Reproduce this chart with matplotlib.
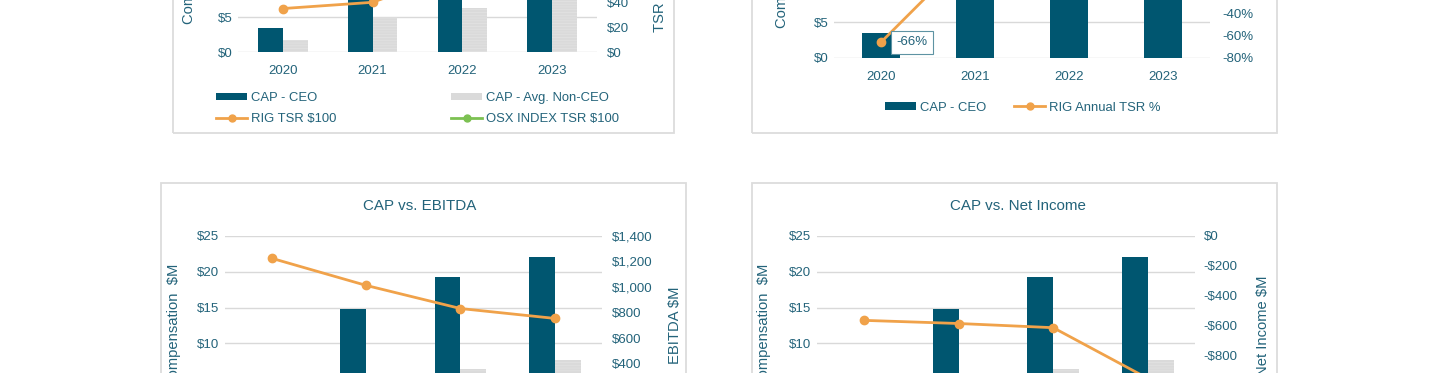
import matplotlib
matplotlib.use("Agg")
import matplotlib.pyplot as plt
from matplotlib.patches import Rectangle, Patch
from matplotlib.lines import Line2D
from matplotlib.ticker import FuncFormatter, MultipleLocator

# ---------------- data ----------------
years = ["2020", "2021", "2022", "2023"]
cap_ceo = [3.5, 14.8, 19.3, 22.0]
cap_non_ceo = [1.8, 5.1, 6.4, 7.7]
rig_tsr_100 = [35, 40, 66, 92]
osx_tsr_100 = [62, 75, 124, 132]
rig_annual_tsr = [-66, 19, 65, 39]
ebitda = [1223, 1012, 832, 755]
net_income = [-566, -587, -615, -954]

# ---------------- style ----------------
plt.rcParams["font.family"] = ["Liberation Sans", "DejaVu Sans"]
plt.rcParams["hatch.linewidth"] = 0.5
TEAL = "#005670"
TXT = "#23637A"
GRAY = "#DADADA"
HATCH = "#E3E3E3"
ORANGE = "#F0A24A"
GREEN = "#7CC152"
GRID = "#D9D9D9"
BOX = "#DCDCDC"
TICK_FS = 9.5
LEG_FS = 9.4

W, H = 1440, 373
fig = plt.figure(figsize=(W / 100, H / 100), dpi=100)
fig.patch.set_facecolor("white")


def fx(x):
    return x / W


def fy(y):
    return 1 - y / H


def add_ax(x0, y0, x1, y1):
    return fig.add_axes([fx(x0), fy(y1), (x1 - x0) / W, (y1 - y0) / H])


def box(x0, y0, x1, y1):
    fig.add_artist(Rectangle((fx(x0), fy(y1)), (x1 - x0) / W, (y1 - y0) / H,
                             transform=fig.transFigure, fill=False,
                             edgecolor=BOX, lw=1.3))


def style_axes(ax, axr, ylim, rlim, rstep, rfmt, lpad=4.3, rpad=7.2, xpad=8):
    ax.set_xlim(-0.5, len(years) - 0.5)
    ax.set_ylim(*ylim)
    ax.yaxis.set_major_locator(MultipleLocator(5))
    ax.yaxis.set_major_formatter(FuncFormatter(lambda v, p: f"${v:.0f}"))
    ax.set_xticks(range(len(years)))
    ax.set_xticklabels(years)
    ax.grid(axis="y", color=GRID, lw=1.0)
    ax.set_axisbelow(True)
    ax.tick_params(axis="both", length=0, colors=TXT, labelsize=TICK_FS)
    ax.tick_params(axis="y", pad=lpad)
    ax.tick_params(axis="x", pad=xpad)
    axr.set_ylim(*rlim)
    axr.yaxis.set_major_locator(MultipleLocator(rstep))
    axr.yaxis.set_major_formatter(FuncFormatter(rfmt))
    axr.tick_params(axis="y", length=0, colors=TXT, labelsize=TICK_FS, pad=rpad)
    for a in (ax, axr):
        for s in a.spines.values():
            s.set_visible(False)
        a.patch.set_visible(False)


def money(v, p):
    s = f"{abs(v):,.0f}"
    return f"-${s}" if v < 0 else f"${s}"


def legend_item(handle, label, x, y, fs=LEG_FS):
    fig.legend([handle], [label], loc="center left",
               bbox_to_anchor=(fx(x), fy(y)), frameon=False, borderpad=0,
               borderaxespad=0, handlelength=2.4, handletextpad=0.28,
               handleheight=0.5, fontsize=fs, labelcolor=TXT)


xs = list(range(len(years)))
bw = 0.275

# ---------------- top-left: CAP vs TSR ----------------
box(173, -400, 674, 133)
ax1 = add_ax(238, -122.7, 597, 52.3)
ax1r = ax1.twinx()
ax1.bar([x - bw / 2 for x in xs], cap_ceo, width=bw, color=TEAL)
ax1.bar([x + bw / 2 for x in xs], cap_non_ceo, width=bw, color=GRAY,
        hatch="------", edgecolor=HATCH, lw=0)
ax1r.plot(xs, rig_tsr_100, color=ORANGE, lw=2, marker="o", ms=6)
ax1r.plot(xs, osx_tsr_100, color=GREEN, lw=2, marker="o", ms=6)
style_axes(ax1, ax1r, (0, 25), (0, 140), 20, money, lpad=4.0, rpad=7.0, xpad=9.5)
fig.text(fx(189), fy(24), "Compensation  $M", rotation=90, ha="center",
         va="bottom", color=TXT, fontsize=10.6)
fig.text(fx(660), fy(31.7), "TSR $100 Investment", rotation=90,
         ha="center", va="bottom", color=TXT, fontsize=10.6)
legend_item(Patch(facecolor=TEAL), "CAP - CEO", 216, 98)
legend_item(Patch(facecolor=GRAY), "CAP - Avg. Non-CEO", 451, 98)
legend_item(Line2D([0], [0], color=ORANGE, lw=2, marker="o", ms=5),
            "RIG TSR $100", 216, 119)
legend_item(Line2D([0], [0], color=GREEN, lw=2, marker="o", ms=5),
            "OSX INDEX TSR $100", 451, 119)

# ---------------- top-right: CAP vs annual TSR ----------------
box(752, -400, 1277, 133)
ax2 = add_ax(834, -119, 1210, 57.7)
ax2r = ax2.twinx()
ax2.bar(xs, cap_ceo, width=0.41, color=TEAL)
ax2r.plot(xs, rig_annual_tsr, color=ORANGE, lw=2, marker="o", ms=6)
style_axes(ax2, ax2r, (0, 25), (-80, 80), 20, lambda v, p: f"{v:.0f}%",
           lpad=4.0, rpad=9.0, xpad=9.5)
for x, v in zip(xs, rig_annual_tsr):
    ax2r.annotate(f"{v}%", (x, v), xytext=(22.5, 0), textcoords="offset points",
                  ha="center", va="center", color=TXT, fontsize=TICK_FS,
                  bbox=dict(boxstyle="square,pad=0.4", fc="white",
                            ec="#5E93A3", lw=0.8))
fig.text(fx(781.7), fy(28.3), "Compensation  $M", rotation=90, ha="center",
         va="bottom", color=TXT, fontsize=10.6)
legend_item(Patch(facecolor=TEAL), "CAP - CEO", 885, 107.5)
legend_item(Line2D([0], [0], color=ORANGE, lw=2, marker="o", ms=5),
            "RIG Annual TSR %", 1014, 107.5)

# ---------------- bottom-left: CAP vs EBITDA ----------------
box(161, 182.7, 686, 700)
ax3 = add_ax(225, 235.7, 601.7, 415.2)
ax3r = ax3.twinx()
ax3.bar([x - bw / 2 for x in xs], cap_ceo, width=bw, color=TEAL)
ax3.bar([x + bw / 2 for x in xs], cap_non_ceo, width=bw, color=GRAY,
        hatch="------", edgecolor=HATCH, lw=0)
ax3r.plot(xs, ebitda, color=ORANGE, lw=2, marker="o", ms=6)
style_axes(ax3, ax3r, (0, 25), (0, 1400), 200, money, lpad=4.0, rpad=7.0)
fig.text(fx(419.5), fy(206), "CAP vs. EBITDA", ha="center", va="center",
         color=TXT, fontsize=10.9)
fig.text(fx(174), fy(325.5), "Compensation  $M", rotation=90, ha="center",
         va="center", color=TXT, fontsize=10.6)
fig.text(fx(675.5), fy(325), "EBITDA $M", rotation=90, ha="center",
         va="center", color=TXT, fontsize=10.6)

# ---------------- bottom-right: CAP vs Net Income ----------------
box(752, 183, 1277, 700)
ax4 = add_ax(817, 235.7, 1195, 415.2)
ax4r = ax4.twinx()
ax4.bar([x - bw / 2 for x in xs], cap_ceo, width=bw, color=TEAL)
ax4.bar([x + bw / 2 for x in xs], cap_non_ceo, width=bw, color=GRAY,
        hatch="------", edgecolor=HATCH, lw=0)
ax4r.plot(xs, net_income, color=ORANGE, lw=2, marker="o", ms=6)
style_axes(ax4, ax4r, (0, 25), (-1200, 0), 200, money, lpad=4.0, rpad=6.3)
fig.text(fx(1018), fy(206), "CAP vs. Net Income", ha="center", va="center",
         color=TXT, fontsize=10.9)
fig.text(fx(764), fy(325.5), "Compensation  $M", rotation=90, ha="center",
         va="center", color=TXT, fontsize=10.6)
fig.text(fx(1263), fy(325.5), "Net Income $M", rotation=90, ha="center",
         va="center", color=TXT, fontsize=10.6)

fig.savefig("out.png", dpi=100, facecolor="white")
